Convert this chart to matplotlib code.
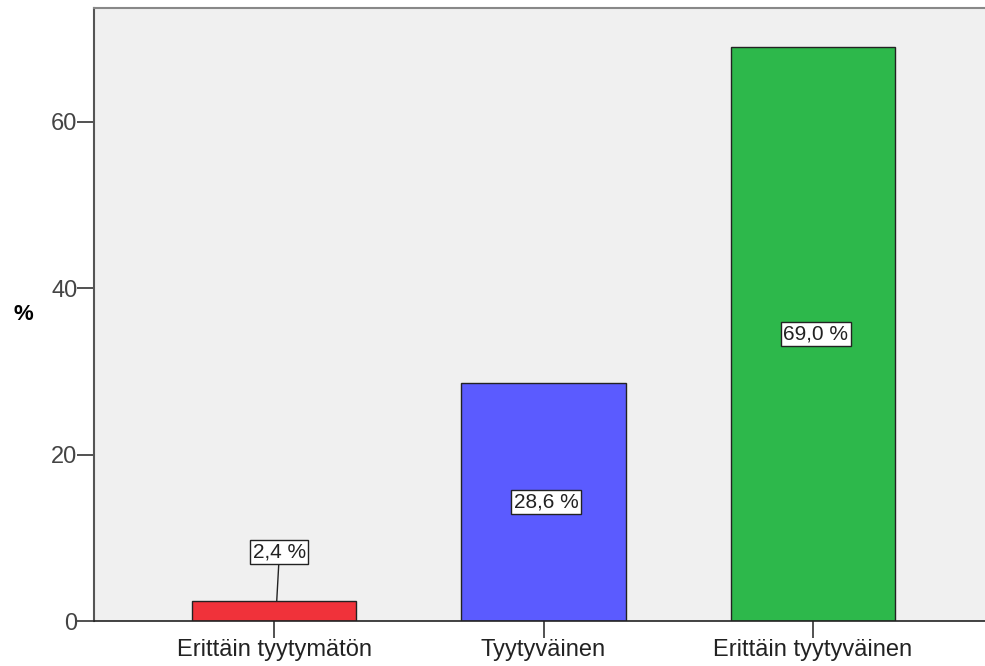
import matplotlib
matplotlib.use("Agg")
import matplotlib.pyplot as plt

categories = ["Erittäin tyytymätön", "Tyytyväinen", "Erittäin tyytyväinen"]
values = [2.4, 28.6, 69.0]
labels = ["2,4 %", "28,6 %", "69,0 %"]
colors = ["#F0323A", "#5B5BFF", "#2DB84B"]

plt.rcParams['font.family'] = ['Liberation Sans', 'DejaVu Sans']

fig = plt.figure(figsize=(9.85, 6.66), dpi=100)
ax = fig.add_axes([94/985, 45/666, (985-94)/985, (621-8)/666])
ax.set_facecolor("#F0F0F0")
x = list(range(len(categories)))
ax.bar(x, values, width=0.61, color=colors, edgecolor="#222222", linewidth=1.0, zorder=2)

ax.set_xlim(-0.668, 2.638)
ax.set_ylim(0, 73.7)
ax.set_yticks([0, 20, 40, 60])
ax.set_xticks(x)
ax.set_xticklabels(categories, fontsize=17, color="#222222")
ax.tick_params(axis='y', labelsize=17, labelcolor="#444444", length=12, width=1.2, color="#333333", pad=0)
ax.tick_params(axis='x', length=12, width=1.2, color="#333333", pad=1)
ax.set_ylabel("%", fontsize=16, fontweight="bold", rotation=0, labelpad=20, va="center")

ax.spines["right"].set_visible(False)
ax.spines["top"].set_color("#888888")
ax.spines["top"].set_linewidth(1.5)
ax.spines["left"].set_color("#555555")
ax.spines["left"].set_linewidth(1.5)
ax.spines["bottom"].set_color("#222222")
ax.spines["bottom"].set_linewidth(1.2)

bbox = dict(boxstyle="square,pad=0.12", fc="white", ec="#222222", lw=1.0)
for i, (v, lab) in enumerate(zip(values, labels)):
    if v < 5:
        ax.annotate(lab, xy=(i + 0.01, v), xytext=(i + 0.02, 8.3),
                    ha="center", va="center", fontsize=15, color="#222222", bbox=bbox,
                    arrowprops=dict(arrowstyle="-", color="#222222", lw=1.0, shrinkA=0, shrinkB=0),
                    zorder=3)
    else:
        ax.text(i + 0.01, v / 2, lab, ha="center", va="center", fontsize=15,
                color="#222222", bbox=bbox, zorder=3)

fig.savefig("out.png", dpi=100, facecolor="white")
